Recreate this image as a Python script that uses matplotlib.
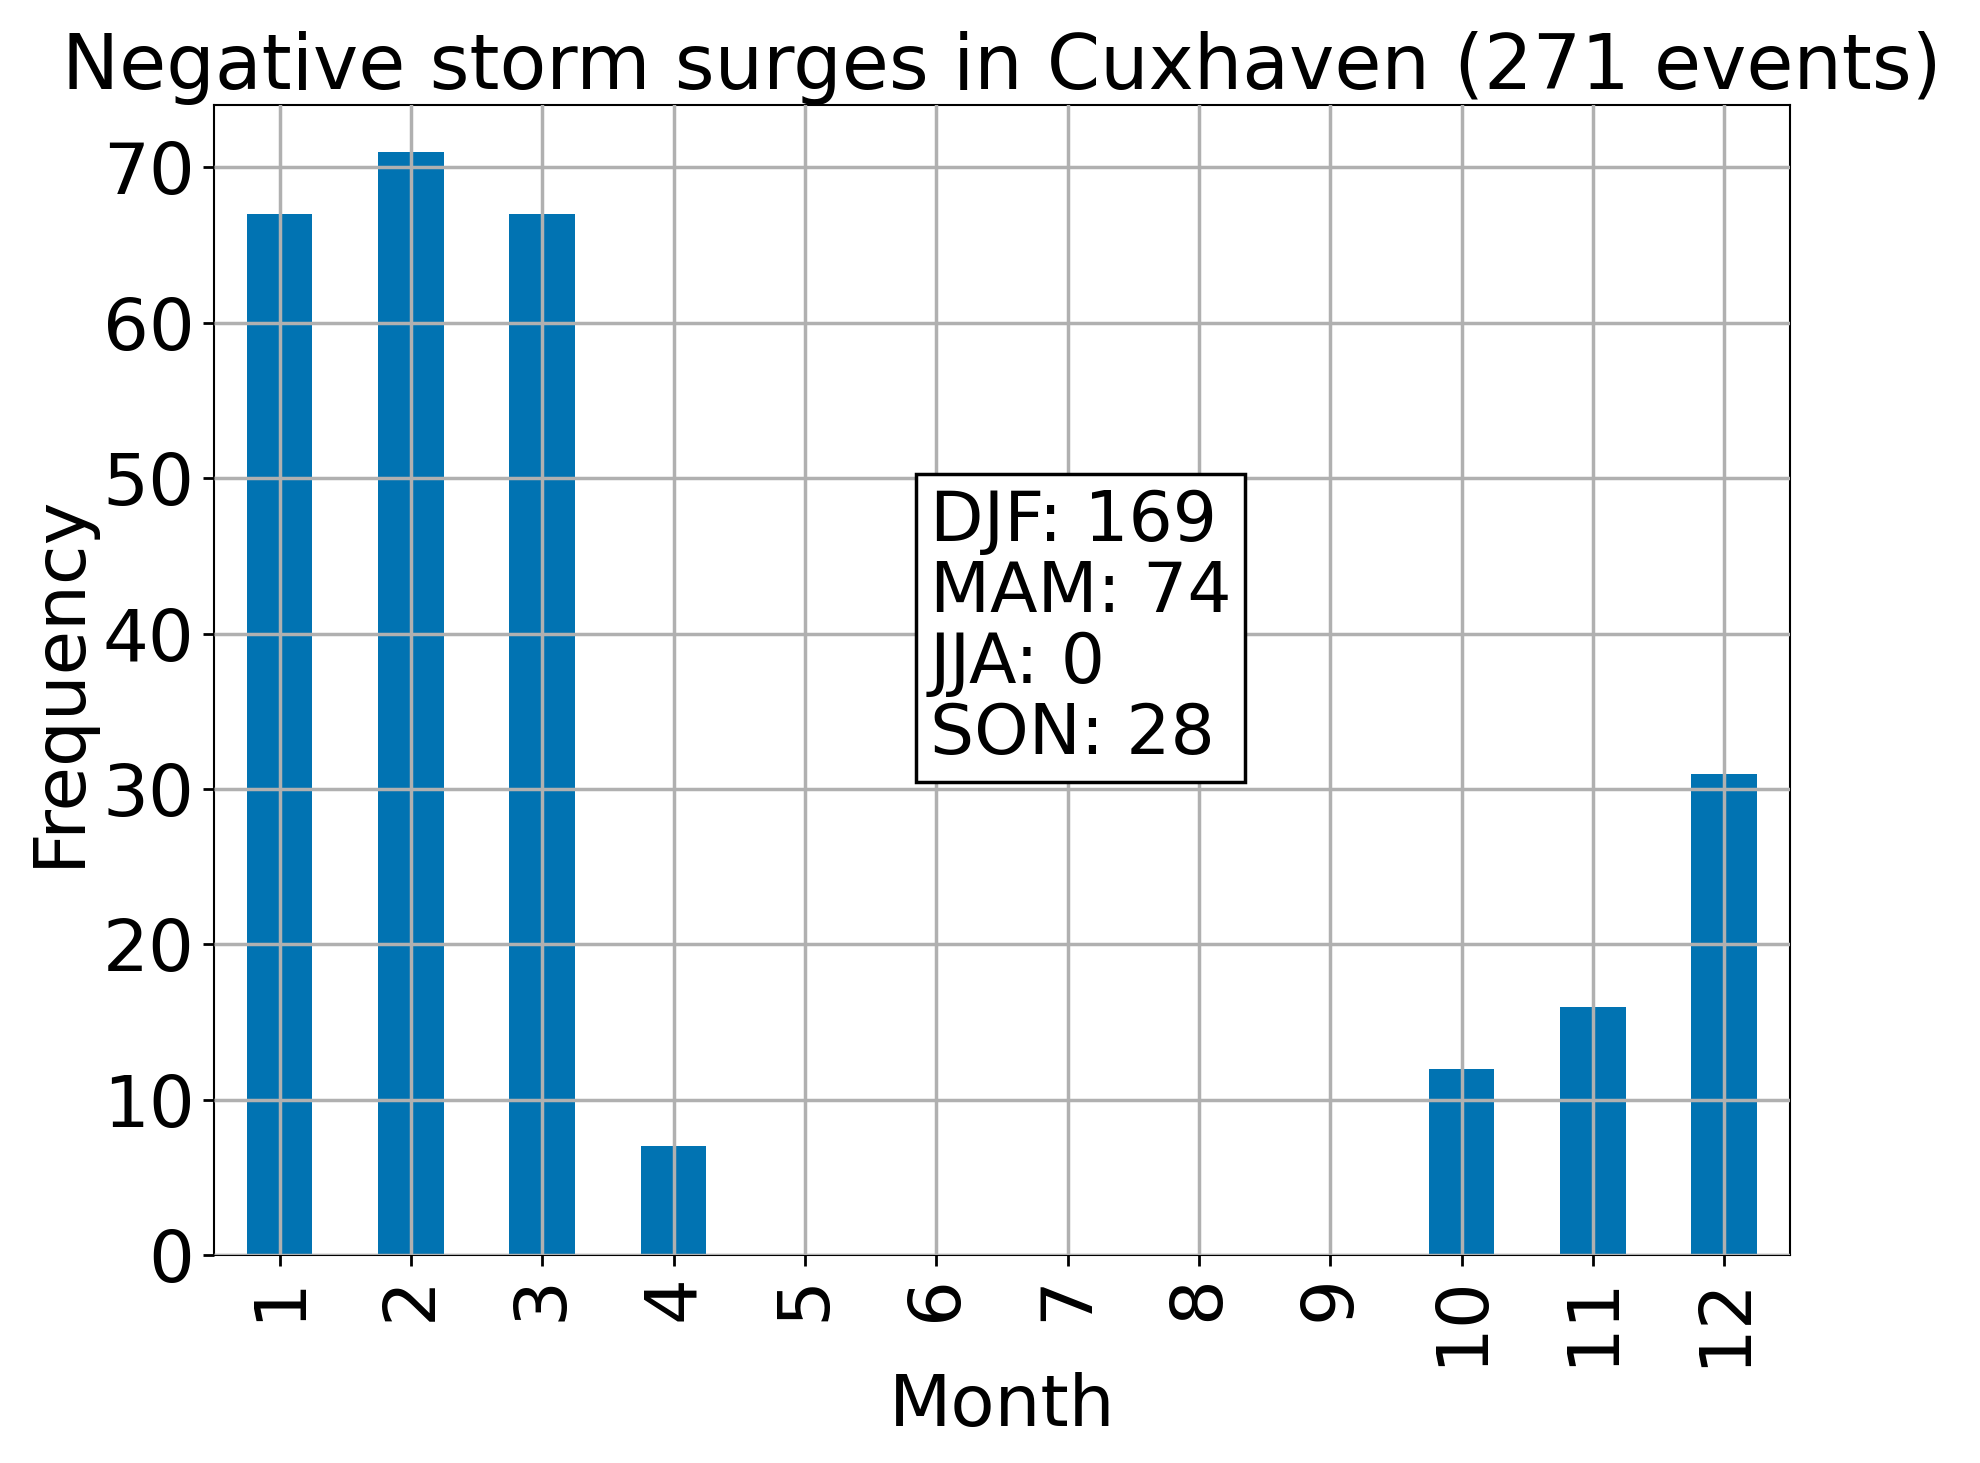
import matplotlib
matplotlib.use('Agg')
import matplotlib.pyplot as plt
import numpy as np

months = [str(m) for m in range(1, 13)]
counts = [67, 71, 67, 7, 0, 0, 0, 0, 0, 12, 16, 31]
season_text = 'DJF: 169\nMAM: 74\nJJA: 0\nSON: 28'
title = 'Negative storm surges in Cuxhaven (271 events)'

plt.rcParams['font.size'] = 52
fig = plt.figure(figsize=(19.8, 14.63), dpi=100)
ax = fig.add_axes([0.108, 0.142, 0.796, 0.786])

x = np.arange(len(months))
ax.bar(x, counts, width=0.5, color='#0173b2', zorder=1)
ax.grid(True, color='#b0b0b0', linewidth=2.5, zorder=2)
ax.set_axisbelow(False)
ax.set_xticks(x)
ax.set_xticklabels(months, rotation=90)
ax.set_xlim(-0.5, 11.5)
ax.set_ylim(0, 74)
ax.set_yticks(range(0, 71, 10))
ax.tick_params(width=2, length=8, pad=6)
for s in ax.spines.values():
    s.set_linewidth(1.5)
ax.set_xlabel('Month', labelpad=4)
ax.set_ylabel('Frequency', labelpad=6)
ax.set_title(title, fontsize=55, pad=12)
ax.text(4.95, 49.4, season_text, fontsize=50, va='top', ha='left', linespacing=1.08,
        bbox=dict(facecolor='white', edgecolor='black', linewidth=2.5, boxstyle='square,pad=0.2'),
        zorder=5)

fig.savefig('out.png', dpi=100)
